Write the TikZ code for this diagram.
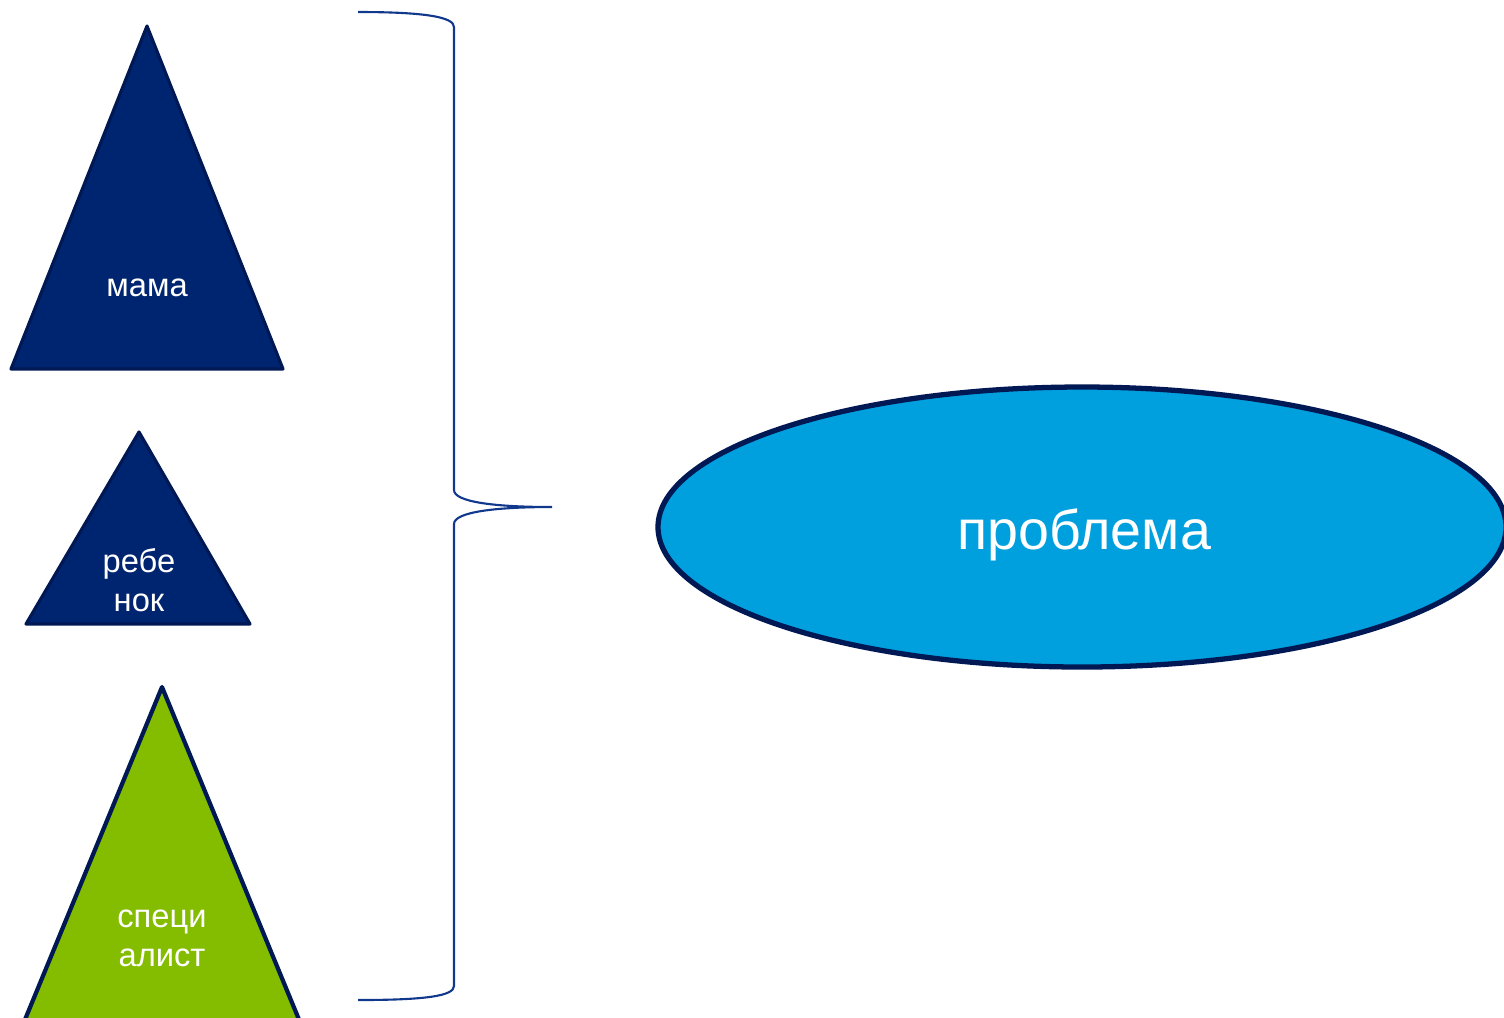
\documentclass[tikz,border=0pt]{standalone}
\usepackage{fontspec}
\setmainfont{Liberation Sans}
\definecolor{navy}{RGB}{0,37,112}
\definecolor{navyline}{RGB}{0,24,84}
\definecolor{sky}{RGB}{0,160,223}
\definecolor{leaf}{RGB}{132,188,0}
\definecolor{bracecol}{RGB}{16,56,140}
\tikzset{
  tri/.style={draw=navyline,line width=0.9pt,line join=round},
  lbl/.style={text=white,font=\fontsize{9.3}{11}\selectfont,align=center,inner sep=0pt},
}
\begin{document}
\begin{tikzpicture}[x=0.01cm,y=-0.01cm]
 \useasboundingbox (0,0) rectangle (1504,1017);
 \clip (0,0) rectangle (1504,1017);
 % triangles
 \draw[tri,fill=navy](147,26)--(283,369)--(11,369)--cycle;
 \draw[tri,fill=navy](139,432)--(250,624)--(26,624)--cycle;
 \draw[tri,fill=leaf,line width=1.2pt](162,687)--(300,1022)--(24,1022)--cycle;
 \node[lbl] (mama) at (147,288) {мама};
 \node[lbl] (rebenok) at (139,580) {ребе\\нок};
 \node[lbl] (spec) at (162,938) {специ\\алист};
 % brace
 \draw[bracecol,line width=0.6pt](358,12) .. controls (425,12) and (454,17) .. (454,27)
   -- (454,490) .. controls (454,502) and (495,507) .. (552,507)
   .. controls (495,507) and (454,512) .. (454,524)
   -- (454,986) .. controls (454,996) and (425,1000) .. (358,1000);
 % ellipse
 \draw[fill=sky,draw=navyline,line width=1.5pt](1082,527) ellipse (424 and 140);
 \node[text=white,font=\fontsize{15.8}{18}\selectfont] (problem) at (1084,535) {проблема};
\end{tikzpicture}
\end{document}
